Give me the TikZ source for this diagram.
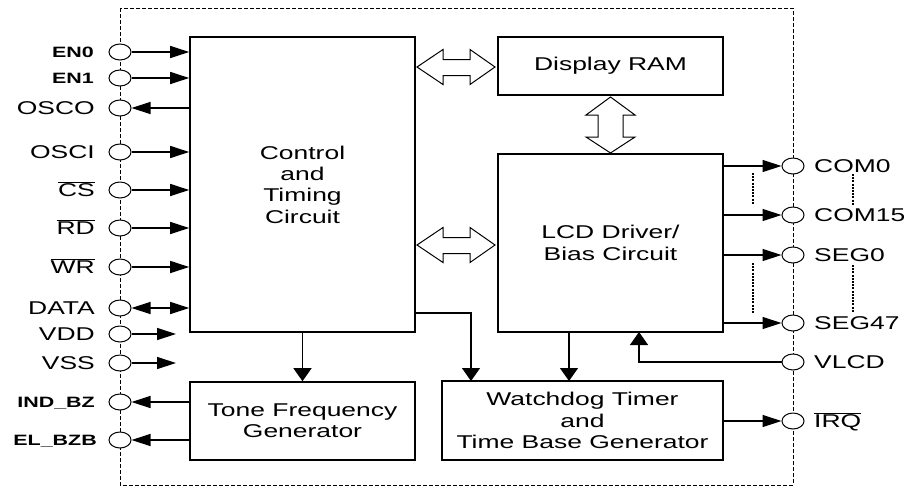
\documentclass[tikz,border=0pt]{standalone}
\usepackage{fontspec}
\setmainfont{Liberation Sans}[FakeStretch=1.43]
\usetikzlibrary{arrows.meta,shapes.geometric}
\newcommand{\olx}[1]{$\overline{\mbox{#1}}$}
\tikzset{
  box/.style={draw,line width=1.6pt,inner sep=0pt,align=center,
    font=\fontsize{18.5}{21.3}\selectfont},
  pinc/.style={draw,ellipse,line width=1pt,fill=white,minimum width=22pt,
    minimum height=16pt,inner sep=0pt},
  llab/.style={anchor=east,inner sep=0pt,text height=13.3pt,text depth=0pt,
    font=\fontsize{18.5}{21.3}\selectfont},
  blab/.style={anchor=east,inner sep=0pt,text height=10.8pt,text depth=0pt,
    font=\fontsize{15}{18}\selectfont\bfseries},
  rlab/.style={anchor=west,inner sep=0pt,text height=13.3pt,text depth=0pt,
    font=\fontsize{18.5}{21.3}\selectfont},
  conn/.style={line width=1.3pt},
  harr/.style={conn,-{Triangle[length=19pt,width=12pt]}},
  harrb/.style={conn,{Triangle[length=19pt,width=12pt]}-{Triangle[length=19pt,width=12pt]}},
  varr/.style={conn,-{Triangle[length=13pt,width=18pt]}},
  border/.style={line width=1pt,dash pattern=on 4pt off 2pt},
  dotl/.style={line width=1.3pt,dash pattern=on 2pt off 1.2pt},
  hollow/.style={draw,line width=1pt,fill=white,line join=miter}
}
\begin{document}
\begin{tikzpicture}[x=1pt,y=-1pt]
\useasboundingbox[fill=white] (0,0) rectangle (904,488);
% outer dashed boundary
\draw[border] (120,8) rectangle (793,485);

% blocks
\node[box,minimum width=225pt,minimum height=295pt] (ctrl) at (302.5,184.5) {Control\\and\\Timing\\Circuit};
\node[box,minimum width=225pt,minimum height=58pt] (ram) at (610.5,66) {Display RAM};
\node[box,minimum width=225pt,minimum height=178pt] (lcd) at (610.5,243) {LCD Driver/\\Bias Circuit};
\node[box,minimum width=225pt,minimum height=78pt] (tone) at (302.5,421) {Tone Frequency\\Generator};
\node[box,minimum width=281pt,minimum height=79pt] (wdt) at (582.5,420.5) {Watchdog Timer\\and\\Time Base Generator};

% left pins
\node[pinc] (p-en0) at (120,52) {};
\node[pinc] (p-en1) at (120,78) {};
\node[pinc] (p-osco) at (120,108) {};
\node[pinc] (p-osci) at (120,152) {};
\node[pinc] (p-cs) at (120,190) {};
\node[pinc] (p-rd) at (120,228) {};
\node[pinc] (p-wr) at (120,267) {};
\node[pinc] (p-data) at (120,308) {};
\node[pinc] (p-vdd) at (120,334) {};
\node[pinc] (p-vss) at (120,363) {};
\node[pinc] (p-ind) at (120,402) {};
\node[pinc] (p-el) at (120,440) {};

\node[blab] (l-en0) at (94,52) {EN0};
\node[blab] (l-en1) at (94,78) {EN1};
\node[llab] (l-osco) at (95,108) {OSCO};
\node[llab] (l-osci) at (95,152) {OSCI};
\node[llab] (l-cs) at (95,190) {\olx{CS}};
\node[llab] (l-rd) at (95,228) {\olx{RD}};
\node[llab] (l-wr) at (95,267) {\olx{WR}};
\node[llab] (l-data) at (95,308) {DATA};
\node[llab] (l-vdd) at (95,334) {VDD};
\node[llab] (l-vss) at (95,363) {VSS};
\node[blab] (l-ind) at (95,402) {IND\_BZ};
\node[blab] (l-el) at (97,440) {EL\_BZB};

% right pins
\node[pinc] (p-com0) at (793,166) {};
\node[pinc] (p-com15) at (793,215) {};
\node[pinc] (p-seg0) at (793,255) {};
\node[pinc] (p-seg47) at (793,323) {};
\node[pinc] (p-vlcd) at (793,362) {};
\node[pinc] (p-irq) at (793,421) {};

\node[rlab] (r-com0) at (814,166) {COM0};
\node[rlab] (r-com15) at (814,215) {COM15};
\node[rlab] (r-seg0) at (814,255) {SEG0};
\node[rlab] (r-seg47) at (814,323) {SEG47};
\node[rlab] (r-vlcd) at (814,362) {VLCD};
\node[rlab] (r-irq) at (814,421) {\olx{IRQ}};

% left connectors
\draw[harr] (p-en0.east) -- (ctrl.west |- p-en0);
\draw[harr] (p-en1.east) -- (ctrl.west |- p-en1);
\draw[harr] (ctrl.west |- p-osco) -- (p-osco.east);
\draw[harr] (p-osci.east) -- (ctrl.west |- p-osci);
\draw[harr] (p-cs.east) -- (ctrl.west |- p-cs);
\draw[harr] (p-rd.east) -- (ctrl.west |- p-rd);
\draw[harr] (p-wr.east) -- (ctrl.west |- p-wr);
\draw[harrb] (p-data.east) -- (ctrl.west |- p-data);
\coordinate (vdd-end) at (176,334);
\coordinate (vss-end) at (176,363);
\draw[harr] (p-vdd.east) -- (vdd-end);
\draw[harr] (p-vss.east) -- (vss-end);
\draw[harr] (tone.west |- p-ind) -- (p-ind.east);
\draw[harr] (tone.west |- p-el) -- (p-el.east);

% vertical connectors
\draw[varr] (ctrl.south) -- (tone.north);
\coordinate (c-out) at (415,313);
\coordinate (w-in1) at (471,381);
\draw[varr] (c-out) -| (w-in1);
\coordinate (l-out) at (569,332);
\coordinate (w-in2) at (569,381);
\draw[varr] (l-out) -- (w-in2);
\coordinate (l-in) at (639,332);
\draw[varr] (p-vlcd.west) -| (l-in);

% right connectors
\draw[harr] (lcd.east |- p-com0) -- (p-com0.west);
\draw[harr] (lcd.east |- p-com15) -- (p-com15.west);
\draw[harr] (lcd.east |- p-seg0) -- (p-seg0.west);
\draw[harr] (lcd.east |- p-seg47) -- (p-seg47.west);
\draw[harr] (wdt.east |- p-irq) -- (p-irq.west);

% dotted continuation marks
\draw[dotl] (753,173) -- (753,204);
\draw[dotl] (753,263) -- (753,313);
\draw[dotl] (853,174) -- (853,205);
\draw[dotl] (853,265) -- (853,312);

% hollow bus arrows
\draw[hollow] (417,67) -- (443,49.5) -- (443,59.5) -- (470,59.5) -- (470,49.5) -- (495,67)
  -- (470,84.5) -- (470,75.5) -- (443,75.5) -- (443,84.5) -- cycle;
\draw[hollow] (417,245) -- (443,227.5) -- (443,237.5) -- (470,237.5) -- (470,227.5) -- (495,245)
  -- (470,262.5) -- (470,253.5) -- (443,253.5) -- (443,262.5) -- cycle;
\draw[hollow] (610.5,97) -- (635,115) -- (623,115) -- (623,137) -- (635,137) -- (610.5,153)
  -- (586,137) -- (598,137) -- (598,115) -- (586,115) -- cycle;
\end{tikzpicture}
\end{document}
